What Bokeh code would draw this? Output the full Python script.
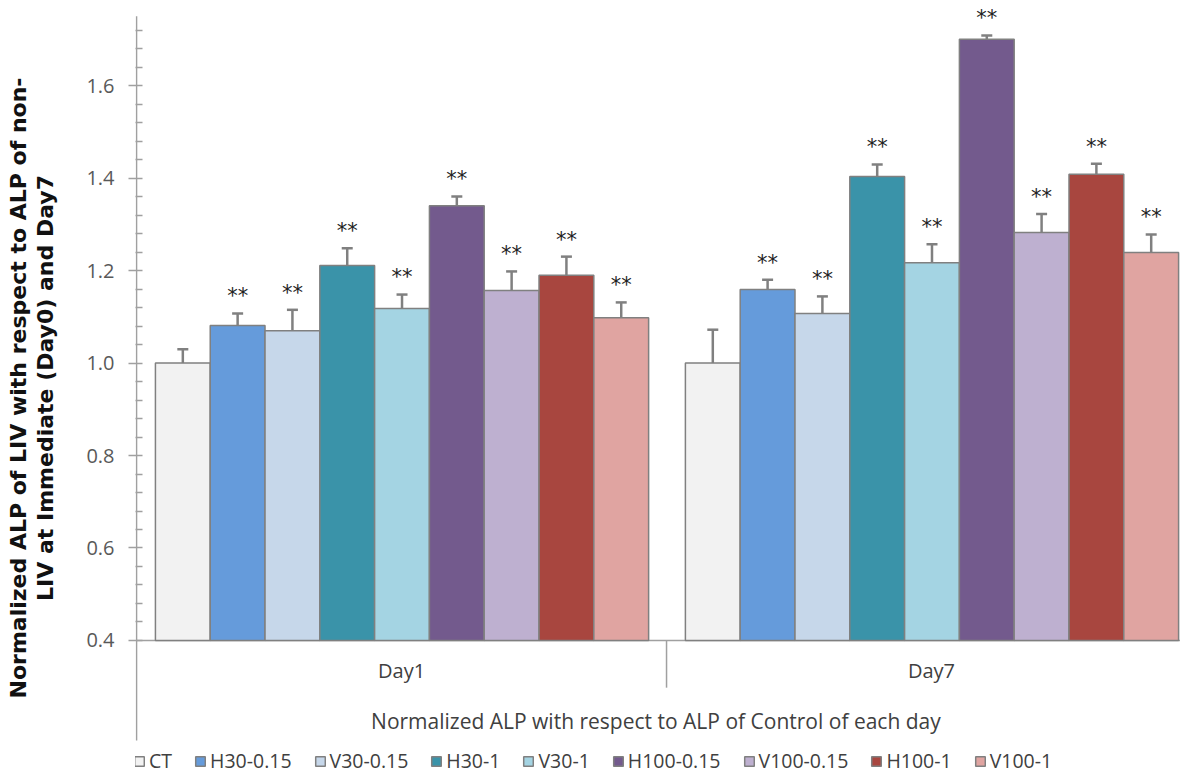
from bokeh.plotting import figure
from bokeh.models import (Range1d, FixedTicker, Whisker, ColumnDataSource, Legend,
                          LegendItem, TeeHead, Title)
from bokeh.core.properties import value
from bokeh.embed import file_html
from bokeh.resources import INLINE

# ---------------- data ----------------
days = ["Day1", "Day7"]
groups = ["CT", "H30-0.15", "V30-0.15", "H30-1", "V30-1",
          "H100-0.15", "V100-0.15", "H100-1", "V100-1"]
day1_mean = [1.000, 1.081, 1.070, 1.211, 1.118, 1.340, 1.157, 1.190, 1.098]
day1_err = [0.030, 0.026, 0.045, 0.037, 0.030, 0.020, 0.041, 0.040, 0.033]
day7_mean = [1.000, 1.159, 1.107, 1.403, 1.217, 1.700, 1.282, 1.408, 1.239]
day7_err = [0.072, 0.021, 0.037, 0.026, 0.040, 0.008, 0.040, 0.023, 0.039]
day1_sig = ["", "**", "**", "**", "**", "**", "**", "**", "**"]
day7_sig = ["", "**", "**", "**", "**", "**", "**", "**", "**"]
colors = ["#F2F2F2", "#659BDB", "#C6D7EA", "#3A93A9", "#A4D4E3",
          "#735A8D", "#BEB0D0", "#A8463F", "#E0A4A1"]
y_ticks = [0.4, 0.6, 0.8, 1.0, 1.2, 1.4, 1.6]
y_tick_labels = ["0.4", "0.6", "0.8", "1.0", "1.2", "1.4", "1.6"]
y_minor = [0.44, 0.48, 0.52, 0.56, 0.64, 0.68, 0.72, 0.76, 0.84, 0.88, 0.92, 0.96,
           1.04, 1.08, 1.12, 1.16, 1.24, 1.28, 1.32, 1.36, 1.44, 1.48, 1.52, 1.56,
           1.64, 1.68, 1.72]
y_axis_top = 1.75
x_title = "Normalized ALP with respect to ALP of Control of each day"
y_title_lines = ["Normalized ALP of LIV with respect to ALP of non-",
                 "LIV at Immediate (Day0) and Day7"]

# ---------------- layout constants ----------------
BASE = 0.4
AXIS_BOTTOM = 0.184
GROUP_OFFSET = 0.0356
BAR_W = 0.1034
TEXT_GRAY = "#404040"
AXIS_GRAY = "#A0A0A0"

p = figure(width=1180, height=775, output_backend="svg", toolbar_location=None,
           x_range=Range1d(-0.002, 1.9698), y_range=Range1d(0.1081, 1.7838),
           min_border_left=135, min_border_right=0, min_border_top=0,
           min_border_bottom=0)
p.xaxis.visible = False
p.xgrid.visible = False
p.ygrid.visible = False
p.outline_line_color = None
p.background_fill_color = "white"
p.border_fill_color = "white"

ax = p.yaxis[0]
ax.ticker = FixedTicker(ticks=y_ticks, minor_ticks=y_minor)
ax.major_label_overrides = {t: l for t, l in zip(y_ticks, y_tick_labels)}
ax.axis_line_color = None
ax.major_tick_line_color = AXIS_GRAY
ax.major_tick_line_width = 1.5
ax.minor_tick_line_color = AXIS_GRAY
ax.minor_tick_line_width = 1.5
ax.major_tick_in = 7
ax.major_tick_out = 7
ax.minor_tick_in = 7
ax.minor_tick_out = 0
ax.major_label_text_font = "Open Sans"
ax.major_label_text_font_size = "20px"
ax.major_label_text_color = "#595959"
ax.major_label_standoff = 14
# blank axis label only reserves the gap between tick labels and the title
ax.axis_label = " "
ax.axis_label_text_font_size = "14px"
ax.axis_label_standoff = 7

# two-line y-axis title: each line is its own centred title (inner line first)
for line in [y_title_lines[1], y_title_lines[0]]:
    p.add_layout(Title(text=line, align="center", offset=32, standoff=0,
                       text_font="DejaVu Sans", text_font_style="bold",
                       text_font_size="22px", text_color="#111111"), "left")

# y axis line (stops below the category area), baseline and separator
p.segment(x0=[0.0], y0=[AXIS_BOTTOM], x1=[0.0], y1=[y_axis_top],
          line_color=AXIS_GRAY, line_width=1.5)
p.segment(x0=[0.0], y0=[BASE], x1=[2.0], y1=[BASE], line_color=AXIS_GRAY, line_width=1.5)
p.segment(x0=[1.0], y0=[BASE], x1=[1.0], y1=[BASE - 0.102], line_color=AXIS_GRAY, line_width=1.5)

legend_items = []
star_x, star_y, star_t = [], [], []
for j, g in enumerate(groups):
    xs = [d + GROUP_OFFSET + (j + 0.5) * BAR_W for d in range(len(days))]
    means = [day1_mean[j], day7_mean[j]]
    errs = [day1_err[j], day7_err[j]]
    src = ColumnDataSource(dict(x=xs, top=means, upper=[m + e for m, e in zip(means, errs)]))
    r = p.vbar(x="x", top="top", bottom=BASE, width=BAR_W, source=src,
               fill_color=colors[j], line_color="#808080", line_width=1.5)
    legend_items.append(LegendItem(label=g, renderers=[r]))
    w = Whisker(base="x", lower="top", upper="upper", source=src, dimension="height",
                line_color="#808080", line_width=2.5,
                upper_head=TeeHead(size=11, line_color="#808080", line_width=2.5),
                lower_head=None)
    p.add_layout(w)
    for k, sig in enumerate([day1_sig[j], day7_sig[j]]):
        if sig:
            star_x.append(xs[k])
            star_y.append(means[k] + errs[k] + 0.05)
            star_t.append(sig)

p.text(x=star_x, y=star_y, text=star_t, text_align="center", text_baseline="middle",
       text_font=value("DejaVu Sans"), text_font_size="21px", text_color="#222222",
       y_offset=6)

# category labels and x-axis title
p.text(x=[0.5, 1.5], y=[BASE - 0.065, BASE - 0.065], text=days, text_align="center",
       text_baseline="middle", text_font=value("Open Sans"), text_font_size="20px",
       text_color=TEXT_GRAY)
p.text(x=[0.98], y=[BASE - 0.173], text=[x_title], text_align="center",
       text_baseline="middle", text_font=value("Open Sans"), text_font_size="21px",
       text_color=TEXT_GRAY)

legend = Legend(items=legend_items, orientation="horizontal", location=(-2, 1),
                margin=0, padding=0, spacing=22, label_standoff=4,
                glyph_width=12, glyph_height=12, border_line_color=None,
                label_text_font="Open Sans", label_text_font_size="19.5px",
                label_text_color=TEXT_GRAY, background_fill_alpha=0)
p.add_layout(legend, "center")

open("out.html", "w").write(file_html(p, INLINE))
